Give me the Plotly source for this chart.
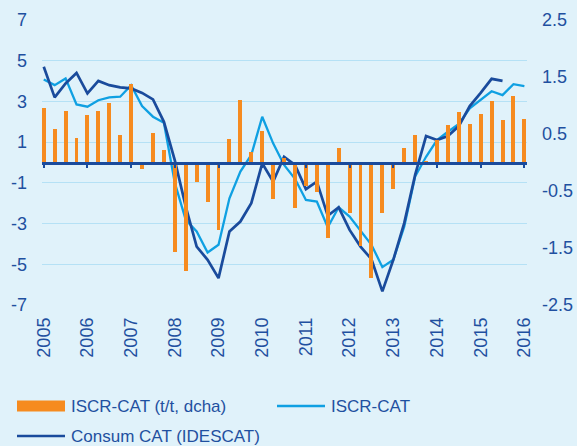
import plotly.graph_objects as go

# Quarterly series, 2005Q1 onwards
years = list(range(2005, 2017))
start_year = 2005

# ISCR-CAT quarter-on-quarter change (right axis)
iscr_qq = [
    0.96, 0.59, 0.90, 0.43,
    0.84, 0.90, 1.04, 0.48,
    1.38, -0.11, 0.52, 0.22,
    -1.57, -1.90, -0.35, -0.70,
    -1.18, 0.42, 1.09, 0.19,
    0.56, -0.64, 0.08, -0.79,
    -0.42, -0.51, -1.32, 0.25,
    -0.88, -1.47, -2.03, -0.89,
    -0.46, 0.25, 0.49, 0.03,
    0.39, 0.66, 0.88, 0.67,
    0.85, 1.08, 0.74, 1.16,
    0.77,
]

# ISCR-CAT year-on-year (left axis)
iscr_yy = [
    4.08, 3.80, 4.13, 2.85,
    2.74, 3.06, 3.20, 3.23,
    3.80, 2.77, 2.25, 1.95,
    -1.00, -2.82, -3.39, -4.42,
    -4.04, -1.76, -0.45, 0.37,
    2.25, 0.94, -0.12, -0.80,
    -1.84, -1.92, -3.18, -2.20,
    -2.66, -3.36, -4.04, -5.14,
    -4.78, -3.15, -0.69, 0.28,
    1.10, 1.51, 1.89, 2.66,
    3.06, 3.50, 3.31, 3.85,
    3.75,
]

# Consum CAT (IDESCAT), year-on-year (left axis)
consum = [
    4.70, 3.20, 3.88, 4.40,
    3.39, 4.01, 3.80, 3.69,
    3.64, 3.42, 3.10, 2.00,
    0.10, -2.17, -4.13, -4.78,
    -5.68, -3.39, -2.90, -2.00,
    -0.04, -0.94, 0.28, -0.12,
    -1.31, -0.94, -2.62, -2.20,
    -3.31, -4.13, -4.75, -6.33,
    -4.78, -2.98, -0.61, 1.30,
    1.10, 1.30, 1.79, 2.77,
    3.42, 4.11, 4.01,
]

left_ticks = [7, 5, 3, 1, -1, -3, -5, -7]
right_ticks = [2.5, 1.5, 0.5, -0.5, -1.5, -2.5]

names = ["ISCR-CAT (t/t, dcha)", "ISCR-CAT", "Consum CAT (IDESCAT)"]


def quarter_x(n):
    return [start_year + i / 4 for i in range(n)]


ORANGE = "#f68b1f"
LIGHT = "#0fa0e2"
DARK = "#1a4b9c"
TEXT = "#1f50a0"
BG = "#e0f2fa"
GRID = "#b5e1f5"
FONT = "Liberation Sans, Arial, sans-serif"

W, H = 577, 446
ML, MR, MT, MB = 42, 50, 20, 141
PW, PH = W - ML - MR, H - MT - MB

fig = go.Figure()

fig.add_trace(go.Bar(
    x=quarter_x(len(iscr_qq)), y=iscr_qq, name=names[0],
    marker=dict(color=ORANGE, line=dict(width=0)), width=0.09,
    yaxis="y2", showlegend=False,
))
fig.add_trace(go.Scatter(
    x=quarter_x(len(iscr_yy)), y=iscr_yy, name=names[1], mode="lines",
    line=dict(color=LIGHT, width=2.3), showlegend=False,
))
fig.add_trace(go.Scatter(
    x=quarter_x(len(consum)), y=consum, name=names[2], mode="lines",
    line=dict(color=DARK, width=2.7), showlegend=False,
))

xr = [2004.96, 2016.06]

fig.update_layout(
    width=W, height=H,
    margin=dict(l=ML, r=MR, t=MT, b=MB, autoexpand=False),
    paper_bgcolor=BG, plot_bgcolor=BG,
    font=dict(family=FONT, color=TEXT, size=18),
    bargap=0,
    xaxis=dict(
        range=xr, tickvals=years, ticktext=[str(y) for y in years],
        tickangle=-90, showgrid=False, zeroline=False, showline=False,
        ticks="", ticklabelstandoff=8, tickfont=dict(size=18, color=TEXT),
        automargin=False,
    ),
    # axis line drawn through zero with year ticks
    xaxis2=dict(
        range=xr, matches="x", overlaying="x", anchor="free", position=0.5,
        tickvals=years, showticklabels=False, ticks="outside", ticklen=4,
        tickwidth=2, tickcolor=DARK, showline=True, linecolor=DARK,
        linewidth=2.6, showgrid=False, zeroline=False, automargin=False,
    ),
    yaxis=dict(
        range=[-7, 7], tickvals=left_ticks, ticktext=[str(v) for v in left_ticks],
        showgrid=True, gridcolor=GRID,
        gridwidth=1.2, zeroline=False, showline=False, ticks="",
        ticklabelstandoff=14, tickfont=dict(size=18, color=TEXT),
        automargin=False,
    ),
    yaxis2=dict(
        range=[-2.5, 2.5], tickvals=right_ticks,
        ticktext=[f"{v:.1f}" for v in right_ticks],
        overlaying="y", side="right", showgrid=False, zeroline=False,
        showline=False, ticks="", ticklabelstandoff=14,
        tickfont=dict(size=18, color=TEXT), automargin=False,
    ),
    showlegend=False,
)

# an empty trace to bring xaxis2 into the layout
fig.add_trace(go.Scatter(x=[], y=[], xaxis="x2", showlegend=False))


def px_x(p):
    return (p - ML) / PW


def px_y(p):
    return (H - MB - p) / PH


# Legend drawn below the plot
legend_rows = [
    (names[0], "bar", 17, 406),
    (names[1], "line", 277, 406),
    (names[2], "line", 17, 436),
]
colors = {names[0]: ORANGE, names[1]: LIGHT, names[2]: DARK}
for name, kind, x0, yc in legend_rows:
    x1 = x0 + 48
    if kind == "bar":
        fig.add_shape(type="rect", xref="paper", yref="paper",
                      x0=px_x(x0), x1=px_x(x1), y0=px_y(yc - 5.5), y1=px_y(yc + 5.5),
                      fillcolor=colors[name], line=dict(width=0), layer="above")
    else:
        fig.add_shape(type="line", xref="paper", yref="paper",
                      x0=px_x(x0), x1=px_x(x1), y0=px_y(yc), y1=px_y(yc),
                      line=dict(color=colors[name], width=2.4), layer="above")
    fig.add_annotation(text=name, xref="paper", yref="paper",
                       x=px_x(x1 + 4), y=px_y(yc), xanchor="left", yanchor="middle",
                       showarrow=False, font=dict(size=17, color=TEXT, family=FONT))

fig.write_html("out.html")
